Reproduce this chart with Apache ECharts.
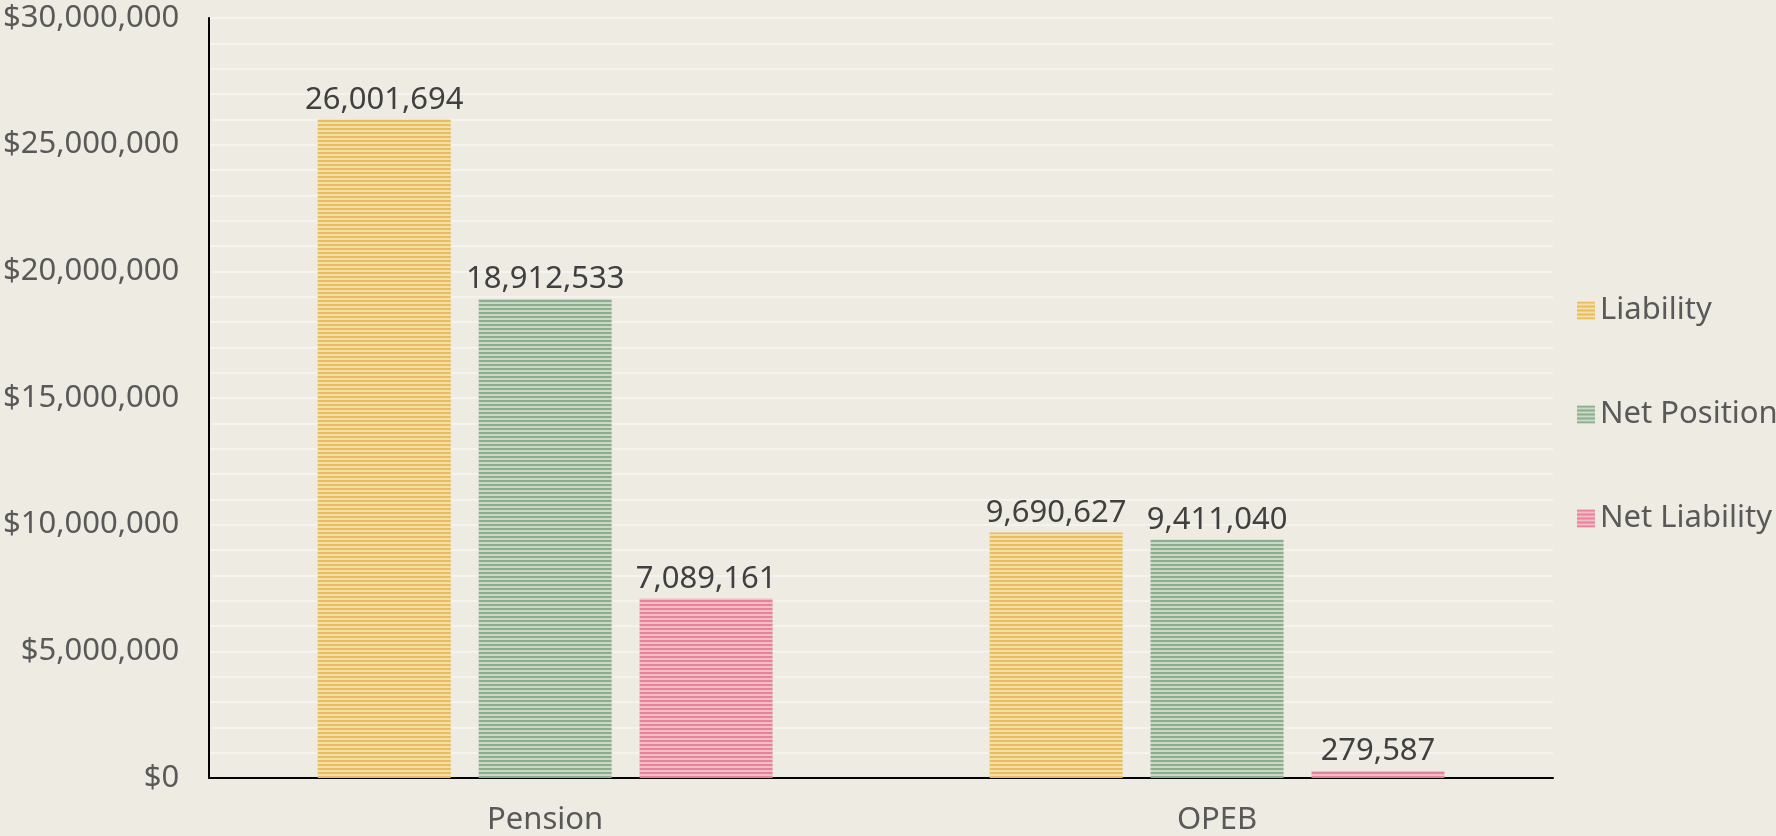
<!DOCTYPE html>
<html>
<head>
<meta charset="utf-8">
<script src="https://cdn.jsdelivr.net/npm/echarts@6/dist/echarts.min.js"></script>
<style>
html,body{margin:0;padding:0;background:#eeebe2;}
#chart{width:1776px;height:836px;}
</style>
</head>
<body>
<div id="chart"></div>
<script>
const categories = ['Pension', 'OPEB'];
const seriesNames = ['Liability', 'Net Position', 'Net Liability'];
const liability = [26001694, 9690627];
const netPosition = [18912533, 9411040];
const netLiability = [7089161, 279587];
const yTicks = [0, 5000000, 10000000, 15000000, 20000000, 25000000, 30000000];

function stripe(dark, light) {
  const c = document.createElement('canvas');
  c.width = 4; c.height = 4;
  const ctx = c.getContext('2d');
  ctx.fillStyle = light; ctx.fillRect(0, 0, 4, 4);
  ctx.fillStyle = dark; ctx.fillRect(0, 0, 4, 2);
  return { image: c, repeat: 'repeat' };
}
const fills = [
  stripe('#e8bd5d', '#f4dfaa'),
  stripe('#8cae8e', '#c9d9c6'),
  stripe('#e5839a', '#f3bcc6')
];
const fmt = v => v.toLocaleString('en-US');
const FONT = 'Noto Sans';
const FS = 31;

const chart = echarts.init(document.getElementById('chart'));
const dataArr = [liability, netPosition, netLiability];
chart.setOption({
  backgroundColor: '#eeebe2',
  animation: false,
  textStyle: { fontFamily: FONT },
  grid: { left: 209, right: 223, top: 18, bottom: 56, containLabel: false },
  legend: {
    orient: 'vertical',
    left: 1572,
    top: 290,
    itemWidth: 18,
    itemHeight: 18,
    itemGap: 73,
    icon: 'rect',
    textStyle: { fontSize: FS, lineHeight: 31, color: '#595959', fontFamily: FONT },
    data: seriesNames
  },
  xAxis: {
    type: 'category',
    data: categories,
    axisLine: { lineStyle: { color: '#000', width: 2 } },
    axisTick: { show: false },
    axisLabel: { fontSize: FS, color: '#595959', margin: 27, fontFamily: FONT }
  },
  yAxis: {
    type: 'value',
    min: yTicks[0],
    max: yTicks[yTicks.length - 1],
    interval: 5000000,
    axisLine: { show: true, lineStyle: { color: '#000', width: 2 } },
    axisTick: { show: false },
    axisLabel: { fontSize: FS, color: '#595959', margin: 30, fontFamily: FONT, padding: [6, 0, 0, 0], formatter: v => '$' + fmt(v) },
    splitLine: { lineStyle: { color: '#f7f6f2', width: 1.5 } },
    minorTick: { show: false, splitNumber: 5 },
    minorSplitLine: { show: true, lineStyle: { color: '#f7f6f2', width: 1.5 } }
  },
  series: seriesNames.map((n, i) => ({
    name: n,
    type: 'bar',
    data: dataArr[i],
    barWidth: 133,
    barGap: '21%',
    itemStyle: { color: fills[i] },
    label: {
      show: true,
      position: 'top',
      distance: 4,
      fontSize: FS,
      color: '#404040',
      fontFamily: FONT,
      formatter: p => fmt(p.value)
    }
  }))
});
</script>
</body>
</html>
